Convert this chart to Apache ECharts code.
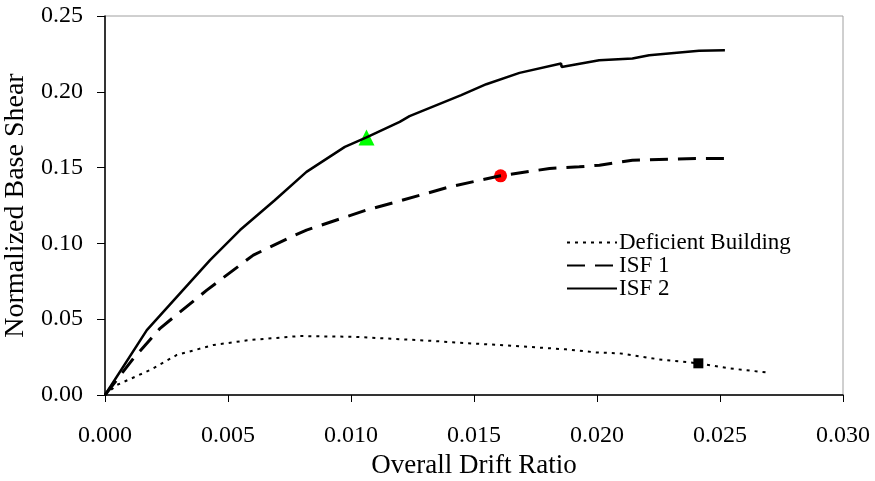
<!DOCTYPE html>
<html>
<head>
<meta charset="utf-8">
<script src="https://cdn.jsdelivr.net/npm/echarts@6/dist/echarts.min.js"></script>
<style>html,body{margin:0;padding:0;background:#fff}#c{width:875px;height:481px}</style>
</head>
<body>
<div id="c"></div>
<script>
var xTicks = [0.000, 0.005, 0.010, 0.015, 0.020, 0.025, 0.030];
var yTicks = [0.00, 0.05, 0.10, 0.15, 0.20, 0.25];

var deficientX = [0, 0.00048, 0.00184, 0.00292, 0.00441, 0.0059, 0.00792, 0.01009, 0.0132, 0.01441, 0.01671, 0.01874, 0.01996, 0.02091, 0.02253, 0.02412, 0.02537, 0.02699];
var deficientY = [0, 0.0066, 0.0165, 0.0264, 0.0330, 0.0363, 0.0389, 0.0384, 0.0358, 0.0345, 0.0323, 0.0301, 0.0281, 0.0275, 0.0235, 0.0209, 0.0176, 0.0147];

var isf1X = [0, 0.00116, 0.00224, 0.00414, 0.00603, 0.00772, 0.00819, 0.01063, 0.01198, 0.01401, 0.01608, 0.01807, 0.01928, 0.0201, 0.02144, 0.02402, 0.02516];
var isf1Y = [0, 0.0242, 0.0440, 0.0692, 0.0923, 0.1055, 0.1088, 0.1220, 0.1280, 0.1373, 0.1446, 0.1494, 0.1505, 0.1516, 0.1549, 0.1560, 0.1560];

var isf2X = [0, 0.0017, 0.00427, 0.00549, 0.0069, 0.00819, 0.00975, 0.01063, 0.01198, 0.01238, 0.01448, 0.0155, 0.01685, 0.01854, 0.01856, 0.02009, 0.02144, 0.02212, 0.02415, 0.0252];
var isf2Y = [0, 0.0428, 0.0890, 0.1088, 0.1285, 0.1472, 0.1637, 0.1699, 0.1802, 0.1840, 0.1978, 0.2050, 0.2125, 0.2187, 0.2164, 0.2208, 0.2219, 0.2241, 0.2270, 0.2274];

var markTriangle = [0.01063, 0.1699];
var markCircle = [0.01608, 0.1446];
var markSquare = [0.02412, 0.0209];

function zip(a, b) { return a.map(function (v, i) { return [v, b[i]]; }); }

var FONT = '"Liberation Serif", "DejaVu Serif", serif';
var chart = echarts.init(document.getElementById('c'), null, {renderer: 'canvas'});
chart.setOption({
  animation: false,
  backgroundColor: '#fff',
  grid: {left: 105, right: 32, top: 16, bottom: 86, show: true, borderColor: '#a0a0a0', borderWidth: 1,
    outerBoundsMode: 'none', containLabel: false},
  legend: {
    data: ['Deficient Building', 'ISF 1', 'ISF 2'],
    orient: 'vertical', left: 561, top: 226,
    itemWidth: 50, itemHeight: 14, itemGap: 0,
    itemStyle: {color: 'transparent', borderColor: 'transparent', borderWidth: 0},
    textStyle: {fontFamily: FONT, fontSize: 23, lineHeight: 23, color: '#000', padding: [0, 0, 0, -3]},
    selectedMode: false
  },
  xAxis: {
    type: 'value', min: 0, max: 0.030, interval: 0.005,
    name: 'Overall Drift Ratio', nameLocation: 'middle', nameGap: 52,
    nameTextStyle: {fontFamily: FONT, fontSize: 27, color: '#000'},
    axisLine: {show: true, onZero: false, lineStyle: {color: '#000', width: 1.5}},
    axisTick: {show: true, inside: false, length: 7, lineStyle: {color: '#000', width: 1}},
    axisLabel: {margin: 29, fontFamily: FONT, fontSize: 24, color: '#000',
      formatter: function (v) { return v.toFixed(3); }},
    splitLine: {show: false}
  },
  yAxis: {
    type: 'value', min: 0, max: 0.25, interval: 0.05,
    name: 'Normalized Base Shear', nameLocation: 'middle', nameGap: 66,
    nameTextStyle: {fontFamily: FONT, fontSize: 28, color: '#000'},
    axisLine: {show: true, onZero: false, lineStyle: {color: '#000', width: 1.5}},
    axisTick: {show: true, inside: false, length: 8, lineStyle: {color: '#000', width: 1}},
    axisLabel: {margin: 22, fontFamily: FONT, fontSize: 24, color: '#000',
      formatter: function (v) { return v.toFixed(2); }},
    splitLine: {show: false}
  },
  series: [
    {name: 'Deficient Building', type: 'line', data: zip(deficientX, deficientY), symbol: 'none',
      lineStyle: {color: '#000', width: 2, type: [3, 5]}, itemStyle: {color: '#000'}},
    {name: 'ISF 1', type: 'line', data: zip(isf1X, isf1Y), symbol: 'none',
      lineStyle: {color: '#000', width: 3, type: [18, 10]}, itemStyle: {color: '#000'}},
    {name: 'ISF 2', type: 'line', data: zip(isf2X, isf2Y), symbol: 'none',
      lineStyle: {color: '#000', width: 2.5}, itemStyle: {color: '#000'}},
    {name: 'm1', type: 'scatter', data: [markTriangle], symbol: 'triangle', symbolSize: 16, itemStyle: {color: '#00ff00', opacity: 1}},
    {name: 'm2', type: 'scatter', data: [markCircle], symbol: 'circle', symbolSize: 13, itemStyle: {color: '#ff0000', opacity: 1}},
    {name: 'm3', type: 'scatter', data: [markSquare], symbol: 'rect', symbolSize: 10, itemStyle: {color: '#000', opacity: 1}}
  ]
});
</script>
</body>
</html>
